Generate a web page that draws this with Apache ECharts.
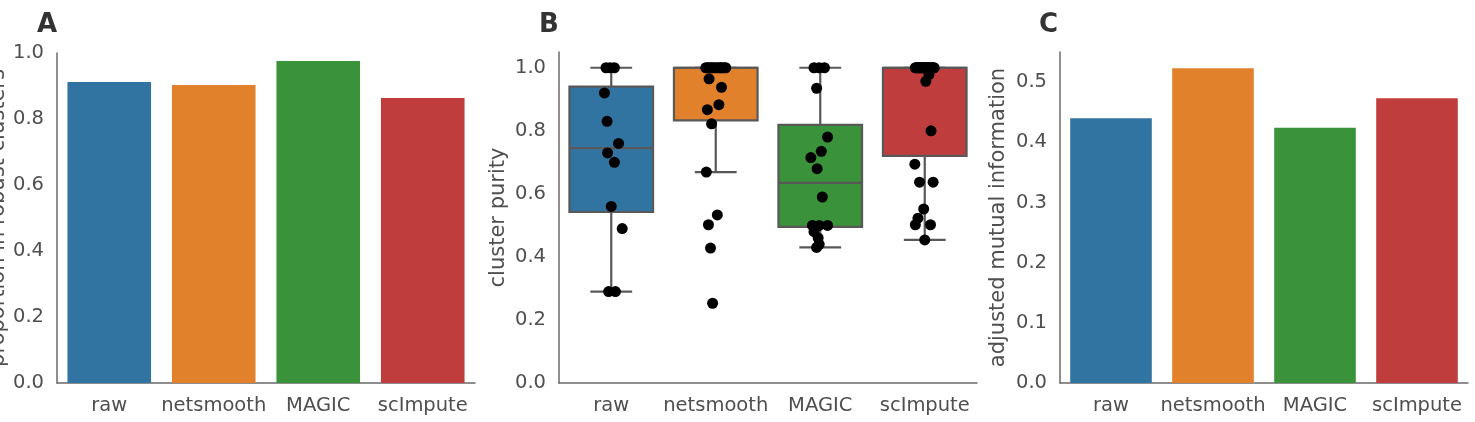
<!DOCTYPE html>
<html><head><meta charset="utf-8">
<script src="https://cdn.jsdelivr.net/npm/echarts@6/dist/echarts.min.js"></script>
<style>html,body{margin:0;padding:0;background:#fff}#c{width:1475px;height:422px}</style>
</head><body><div id="c"></div>
<script>
// ---- data ----
const categories = ['raw', 'netsmooth', 'MAGIC', 'scImpute'];
const robustProportion = [0.912, 0.903, 0.976, 0.864];
const amiValues = [0.440, 0.523, 0.424, 0.473];

const purityRaw = [1.0, 1.0, 1.0, 0.92, 0.83, 0.76, 0.73, 0.70, 0.56, 0.49, 0.29, 0.29];
const purityNetsmooth = [1.0, 1.0, 1.0, 1.0, 1.0, 1.0, 1.0, 1.0, 1.0, 1.0, 1.0, 1.0,
  0.965, 0.938, 0.883, 0.867, 0.822, 0.669, 0.533, 0.502, 0.428, 0.253];
const purityMagic = [1.0, 1.0, 1.0, 0.935, 0.78, 0.735, 0.715, 0.68, 0.59, 0.5, 0.5, 0.5, 0.48, 0.46, 0.44, 0.43];
const purityScimpute = [1.0, 1.0, 1.0, 1.0, 1.0, 1.0, 1.0, 1.0, 1.0, 1.0, 1.0, 1.0, 1.0, 1.0, 1.0, 1.0, 1.0, 1.0, 1.0,
  0.978, 0.957, 0.80, 0.694, 0.637, 0.637, 0.552, 0.523, 0.502, 0.502, 0.454];

// strip-plot jitter (category units)
const jitterRaw = [-0.05, 0.03, -0.01, -0.065, -0.04, 0.07, -0.035, 0.03, 0.0, 0.105, -0.025, 0.04];
const jitterNetsmooth = [-0.095, -0.08, -0.06, -0.045, -0.03, -0.01, 0.01, 0.03, 0.045, 0.06, 0.08, 0.095,
  -0.064, 0.055, 0.03, -0.08, -0.04, -0.09, 0.015, -0.07, -0.05, -0.03];
const jitterMagic = [-0.06, 0.04, -0.01, -0.035, 0.07, 0.01, -0.09, -0.03, 0.02, -0.075, -0.01, 0.07, -0.06, -0.02, -0.01, -0.035];
const jitterScimpute = [-0.09, -0.08, -0.07, -0.06, -0.05, -0.04, -0.03, -0.02, -0.01, 0.0, 0.01, 0.02, 0.03, 0.04, 0.05, 0.06, 0.07, 0.08, 0.09,
  0.04, 0.01, 0.06, -0.095, -0.05, 0.08, -0.01, -0.065, -0.09, 0.055, 0.0];

const yTicksA = [0, 0.2, 0.4, 0.6, 0.8, 1.0];
const yTicksB = [0, 0.2, 0.4, 0.6, 0.8, 1.0];
const yTicksC = [0, 0.1, 0.2, 0.3, 0.4, 0.5];

// ---- styles ----
const palette = ['#3274A1', '#E1812C', '#3A923A', '#C03D3E'];
const FONT = 'DejaVu Sans';
const textColor = '#4f4f4f';
const axisColor = '#6a6a6a';
const boxLine = '#585858';

const purityGroups = [purityRaw, purityNetsmooth, purityMagic, purityScimpute];
const jitterGroups = [jitterRaw, jitterNetsmooth, jitterMagic, jitterScimpute];

function percentile(sorted, p) {
  const pos = (sorted.length - 1) * p;
  const lo = Math.floor(pos), hi = Math.ceil(pos);
  return sorted[lo] + (sorted[hi] - sorted[lo]) * (pos - lo);
}
function boxStats(arr) {
  const s = arr.slice().sort((a, b) => a - b);
  const q1 = percentile(s, 0.25), med = percentile(s, 0.5), q3 = percentile(s, 0.75);
  const iqr = q3 - q1;
  const lowB = q1 - 1.5 * iqr, highB = q3 + 1.5 * iqr;
  const low = s.find(v => v >= lowB);
  const high = s.slice().reverse().find(v => v <= highB);
  return [low, q1, med, q3, high];
}
const boxData = purityGroups.map((g, i) => [i].concat(boxStats(g)));
const stripData = [];
purityGroups.forEach((g, i) => g.forEach((v, j) => stripData.push([i + jitterGroups[i][j], v])));

function tickFormatter(ticks) {
  return v => ticks.some(t => Math.abs(t - v) < 1e-9) ? v.toFixed(1) : '';
}

function catAxis(gi) {
  return {
    type: 'category', gridIndex: gi, data: categories,
    axisLine: { show: true, onZero: false, lineStyle: { color: axisColor, width: 1.5 } },
    axisTick: { show: false },
    axisLabel: { interval: 0, fontSize: 19.5, color: textColor, fontFamily: FONT, margin: 13 },
    splitLine: { show: false }
  };
}
function valAxis(gi, max, interval, ticks, name, gap) {
  return {
    type: 'value', gridIndex: gi, min: 0, max: max, interval: interval,
    axisLine: { show: true, onZero: false, lineStyle: { color: axisColor, width: 1.5 } },
    axisTick: { show: false },
    splitLine: { show: false },
    axisLabel: { fontSize: 19.5, color: textColor, fontFamily: FONT, margin: 13, formatter: tickFormatter(ticks) },
    name: name, nameLocation: 'middle', nameGap: gap,
    nameTextStyle: { fontSize: 21, color: textColor, fontFamily: FONT }
  };
}

const chart = echarts.init(document.getElementById('c'), null, { renderer: 'canvas' });
chart.setOption({
  animation: false,
  backgroundColor: '#fff',
  grid: [
    { left: 57, top: 53, width: 418, height: 330, outerBoundsMode: 'none', containLabel: false },
    { left: 559, top: 52, width: 418, height: 331, outerBoundsMode: 'none', containLabel: false },
    { left: 1060, top: 52, width: 408, height: 331, outerBoundsMode: 'none', containLabel: false }
  ],
  xAxis: [
    catAxis(0), catAxis(1), catAxis(2),
    { type: 'value', gridIndex: 1, min: -0.5, max: 3.5, show: false }
  ],
  yAxis: [
    valAxis(0, 1.0, 0.2, yTicksA, 'proportion in robust clusters', 44),
    valAxis(1, 1.05, 0.2, yTicksB, 'cluster purity', 50),
    valAxis(2, 0.55, 0.1, yTicksC, 'adjusted mutual information', 51)
  ],
  graphic: [
    { type: 'text', left: 37, top: 12, style: { text: 'A', fontSize: 26, fontWeight: 'bold', fontFamily: FONT, fill: '#333' } },
    { type: 'text', left: 539, top: 12, style: { text: 'B', fontSize: 26, fontWeight: 'bold', fontFamily: FONT, fill: '#333' } },
    { type: 'text', left: 1039, top: 12, style: { text: 'C', fontSize: 26, fontWeight: 'bold', fontFamily: FONT, fill: '#333' } }
  ],
  series: [
    {
      type: 'bar', xAxisIndex: 0, yAxisIndex: 0, barWidth: '80%',
      data: robustProportion.map((v, i) => ({ value: v, itemStyle: { color: palette[i] } }))
    },
    {
      type: 'custom', xAxisIndex: 1, yAxisIndex: 1, z: 2,
      data: boxData,
      encode: { x: 0, y: [1, 2, 3, 4, 5] },
      renderItem: function (params, api) {
        const i = api.value(0);
        const bw = api.size([1, 0])[0] * 0.8;
        const pLow = api.coord([i, api.value(1)]);
        const pQ1 = api.coord([i, api.value(2)]);
        const pMed = api.coord([i, api.value(3)]);
        const pQ3 = api.coord([i, api.value(4)]);
        const pHigh = api.coord([i, api.value(5)]);
        const x = pQ1[0];
        const ls = { stroke: boxLine, lineWidth: 2.2 };
        return {
          type: 'group', children: [
            { type: 'line', shape: { x1: x, y1: pQ1[1], x2: x, y2: pLow[1] }, style: ls },
            { type: 'line', shape: { x1: x, y1: pQ3[1], x2: x, y2: pHigh[1] }, style: ls },
            { type: 'line', shape: { x1: x - bw / 4, y1: pLow[1], x2: x + bw / 4, y2: pLow[1] }, style: ls },
            { type: 'line', shape: { x1: x - bw / 4, y1: pHigh[1], x2: x + bw / 4, y2: pHigh[1] }, style: ls },
            { type: 'rect', shape: { x: x - bw / 2, y: pQ3[1], width: bw, height: pQ1[1] - pQ3[1] },
              style: { fill: palette[i], stroke: boxLine, lineWidth: 2.2 } },
            { type: 'line', shape: { x1: x - bw / 2, y1: pMed[1], x2: x + bw / 2, y2: pMed[1] }, style: ls }
          ]
        };
      }
    },
    {
      type: 'scatter', xAxisIndex: 3, yAxisIndex: 1, z: 3,
      symbolSize: 11, itemStyle: { color: '#000', opacity: 1 },
      data: stripData
    },
    {
      type: 'bar', xAxisIndex: 2, yAxisIndex: 2, barWidth: '80%',
      data: amiValues.map((v, i) => ({ value: v, itemStyle: { color: palette[i] } }))
    }
  ]
});
</script></body></html>
